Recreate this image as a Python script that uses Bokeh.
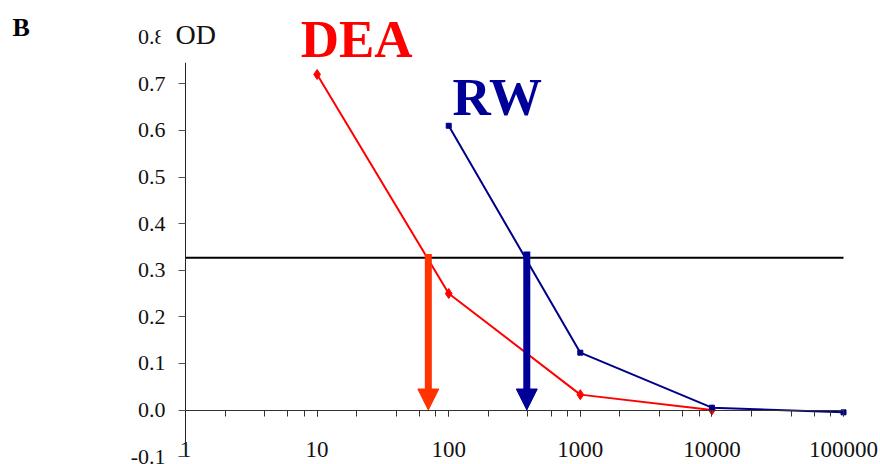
from bokeh.plotting import figure
from bokeh.models import (Range1d, FixedTicker, LogTicker, PrintfTickFormatter,
                          Arrow, NormalHead, Label, ColumnDataSource)
from bokeh.embed import file_html
from bokeh.resources import INLINE

# Dilution series (log scale) and optical density readings
dea_dilution = [10, 100, 1000, 10000]
dea_od = [0.72, 0.25, 0.033, 0.0]

rw_dilution = [100, 1000, 10000, 100000]
rw_od = [0.61, 0.123, 0.005, -0.005]

# Cut-off OD and the titre at that cut-off
cutoff_od = 0.327
arrow_top = 0.335
dea_titre = 70
rw_titre = 392

# Axis extents
dilution_limits = [1, 100000]
od_limits = [-0.1, 0.8]
y_ticks = [-0.1, 0.0, 0.1, 0.2, 0.3, 0.4, 0.5, 0.6, 0.7, 0.8]

SERIF = "'Liberation Serif', 'Times New Roman', serif"
RED = "#ff0000"
ARROW_RED = "#ff3300"
NAVY = "#000088"
ARROW_NAVY = "#000099"

# The frame fills the whole canvas; both axes are pinned inside it so that
# labels placed in the margins are not clipped.
p = figure(width=880, height=464, x_axis_type="log",
           x_range=Range1d(10 ** -1.4058, 10 ** 5.281),
           y_range=Range1d(-0.11695, 0.8788),
           output_backend="svg", toolbar_location=None,
           min_border=0)
p.outline_line_color = None
p.xgrid.visible = False
p.ygrid.visible = False
p.background_fill_color = "white"
p.border_fill_color = "white"

xa = p.xaxis[0]
xa.fixed_location = 0
xa.bounds = tuple(dilution_limits)
xa.ticker = LogTicker(desired_num_ticks=6)
xa.formatter = PrintfTickFormatter(format="%d")
xa.axis_line_color = "#333333"
xa.major_tick_line_color = "#333333"
xa.minor_tick_line_color = "#333333"
xa.major_tick_in = 0
xa.major_tick_out = 6
xa.minor_tick_in = 0
xa.minor_tick_out = 6
xa.major_label_standoff = 26
xa.major_label_text_font = SERIF
xa.major_label_text_font_size = "23px"
xa.major_label_text_color = "#111111"

ya = p.yaxis[0]
ya.fixed_location = dilution_limits[0]
ya.bounds = tuple(od_limits)
ya.ticker = FixedTicker(ticks=y_ticks)
ya.formatter = PrintfTickFormatter(format="%.1f")
ya.axis_line_color = "#222222"
ya.major_tick_line_color = "#555555"
ya.major_tick_in = 0
ya.major_tick_out = 7
ya.minor_tick_line_color = None
ya.major_label_standoff = 13
ya.major_label_text_font = SERIF
ya.major_label_text_font_size = "22px"
ya.major_label_text_color = "#111111"

# cut-off line across the dilution axis
p.line(dilution_limits, [cutoff_od, cutoff_od], line_color="black", line_width=2)

# titration curves
dea_src = ColumnDataSource(dict(x=dea_dilution, y=dea_od))
rw_src = ColumnDataSource(dict(x=rw_dilution, y=rw_od))
p.line("x", "y", source=dea_src, line_color=RED, line_width=2)
p.scatter("x", "y", source=dea_src, marker="diamond", size=10,
          fill_color=RED, line_color=RED)
p.line("x", "y", source=rw_src, line_color=NAVY, line_width=2)
p.scatter("x", "y", source=rw_src, marker="square", size=5,
          fill_color=NAVY, line_color=NAVY)

# arrows dropping from the cut-off to the titre
p.add_layout(Arrow(x_start=dea_titre, y_start=arrow_top, x_end=dea_titre, y_end=0,
                   line_color=ARROW_RED, line_width=7,
                   end=NormalHead(size=21, fill_color=ARROW_RED, line_color=ARROW_RED)))
p.add_layout(Arrow(x_start=rw_titre, y_start=arrow_top + 0.005, x_end=rw_titre, y_end=0,
                   line_color=ARROW_NAVY, line_width=7,
                   end=NormalHead(size=21, fill_color=ARROW_NAVY, line_color=ARROW_NAVY)))

# series names
p.add_layout(Label(x=7.5, y=0.735, text="DEA", text_font=SERIF,
                   text_font_style="bold", text_font_size="53px",
                   text_color=RED))
p.add_layout(Label(x=107, y=0.609, text="RW", text_font=SERIF,
                   text_font_style="bold", text_font_size="53px",
                   text_color=ARROW_NAVY))

# axis title (its white box hides the top of the OD axis) and panel letter
p.add_layout(Label(x=0.646, y=0.745, text="OD", text_font=SERIF,
                   text_font_size="28px", text_color="#111111",
                   background_fill_color="white", background_fill_alpha=1.0,
                   padding=dict(left=15, right=2, top=0, bottom=13)))
p.add_layout(Label(x=0.0485, y=0.789, text="B", text_font=SERIF,
                   text_font_style="bold", text_font_size="26px",
                   text_color="black"))

open("out.html", "w").write(file_html(p, INLINE))
